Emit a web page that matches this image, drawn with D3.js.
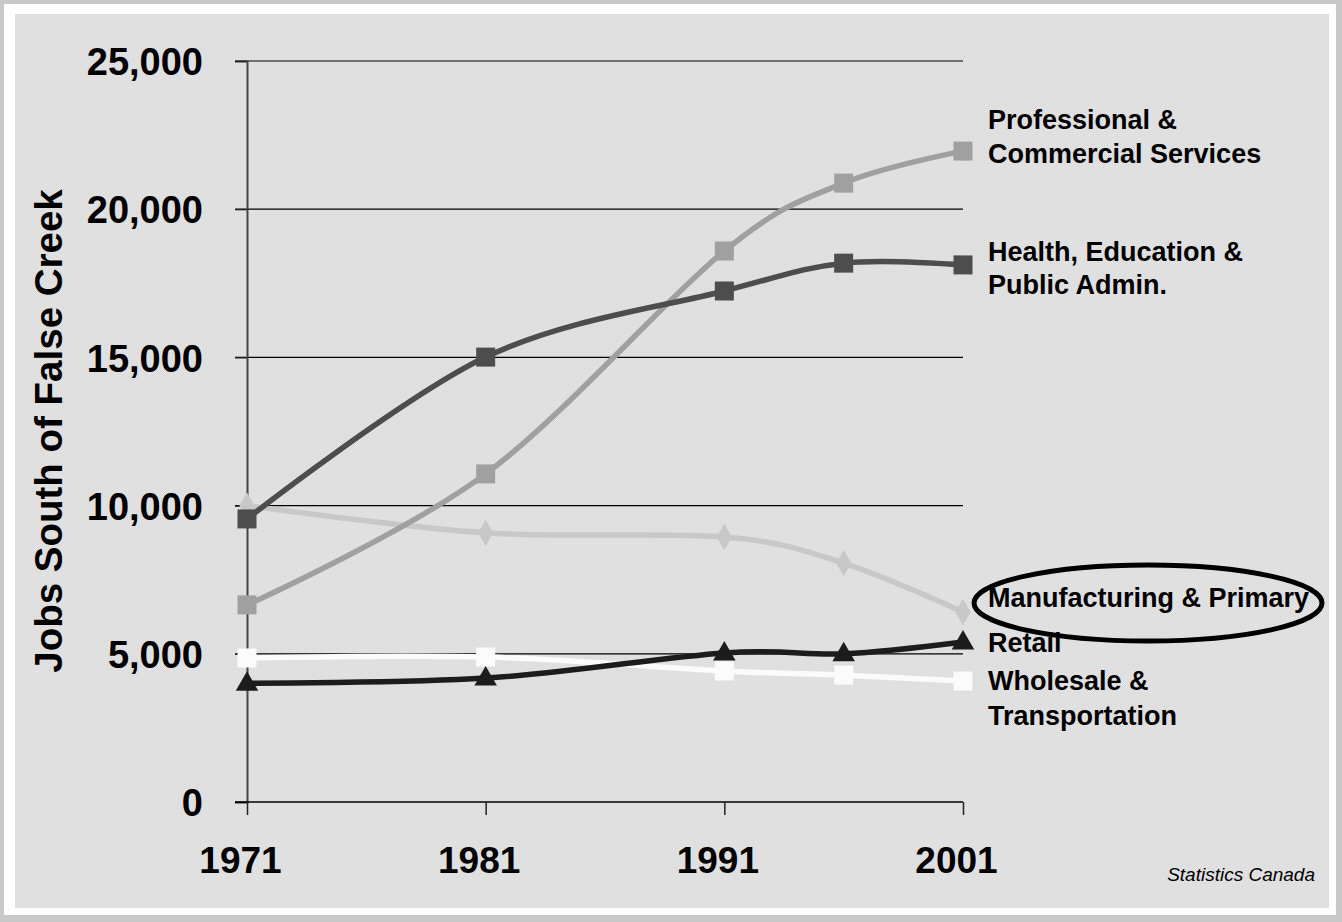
<!DOCTYPE html>
<html>
<head>
<meta charset="utf-8">
<script src="https://cdn.jsdelivr.net/npm/d3@7/dist/d3.min.js"></script>
<style>
  html, body { margin: 0; padding: 0; background: #c8c8c8; }
  svg { display: block; }
  text { font-family: "Liberation Sans", Arial, sans-serif; }
</style>
</head>
<body>
<svg id="chart" width="1342" height="922"></svg>
<script>
// Census years and job counts south of False Creek
const years = [1971, 1981, 1991, 1996, 2001];
const tickYears = [1971, 1981, 1991, 2001];
const yTicks = [0, 5000, 10000, 15000, 20000, 25000];

const professional  = [6650, 11070, 18590, 20880, 21960];
const health        = [9550, 15010, 17240, 18180, 18120];
const manufacturing = [10000, 9080, 8940, 8060, 6410];
const retail        = [4010, 4180, 5030, 5000, 5400];
const wholesale     = [4860, 4890, 4420, 4280, 4080];

const labelProfessional  = ["Professional &", "Commercial Services"];
const labelHealth        = ["Health, Education &", "Public Admin."];
const labelManufacturing = ["Manufacturing & Primary"];
const labelRetail        = ["Retail"];
const labelWholesale     = ["Wholesale &", "Transportation"];

const yTitle = "Jobs South of False Creek";
const sourceNote = "Statistics Canada";

const svg = d3.select("#chart");

// Dotted fill used behind the plot
const defs = svg.append("defs");
const pat = defs.append("pattern")
  .attr("id", "dots").attr("width", 2).attr("height", 2)
  .attr("patternUnits", "userSpaceOnUse");
pat.append("rect").attr("width", 2).attr("height", 2).attr("fill", "#e6e6e6");
pat.append("rect").attr("width", 1).attr("height", 1).attr("fill", "#d8d8d8");
pat.append("rect").attr("x", 1).attr("y", 1).attr("width", 1).attr("height", 1).attr("fill", "#dbdbdb");

// Frame
svg.append("rect").attr("x", 4).attr("y", 4).attr("width", 1332).attr("height", 911).attr("fill", "#ffffff");
svg.append("rect").attr("x", 15).attr("y", 14).attr("width", 1314).attr("height", 894).attr("fill", "url(#dots)");

const x = d3.scaleLinear().domain([1971, 2001]).range([247, 963]);
const y = d3.scaleLinear().domain([0, 25000]).range([802, 61]);

// Horizontal gridlines
svg.append("g").selectAll("line")
  .data(yTicks.filter(v => v > 0))
  .join("line")
  .attr("x1", 235).attr("x2", x(2001))
  .attr("y1", d => y(d)).attr("y2", d => y(d))
  .attr("stroke", "#000").attr("stroke-width", 1.2);

// Y axis
const yAxis = svg.append("g").attr("transform", `translate(${x(1971)},0)`)
  .call(d3.axisLeft(y).tickValues(yTicks).tickSize(12).tickPadding(32)
    .tickFormat(d3.format(",")));
yAxis.select(".domain").attr("stroke", "#444").attr("stroke-width", 2);
yAxis.selectAll(".tick line").attr("stroke", "#222").attr("stroke-width", 1.2);
yAxis.selectAll(".tick text")
  .attr("font-size", 38).attr("font-weight", "bold").attr("fill", "#000")
  .attr("font-family", "Liberation Sans, Arial, sans-serif")
  .attr("dy", "0.36em");

// X axis
const xAxis = svg.append("g").attr("transform", `translate(0,${y(0)})`)
  .call(d3.axisBottom(x).tickValues(tickYears).tickSize(13).tickPadding(0)
    .tickFormat(d3.format("d")));
xAxis.select(".domain").attr("stroke", "#000").attr("stroke-width", 1.5)
  .attr("d", `M235,0H${x(2001)}`);
xAxis.selectAll(".tick line").attr("stroke", "#222").attr("stroke-width", 1.5);
xAxis.selectAll(".tick text")
  .attr("font-size", 37).attr("font-weight", "bold").attr("fill", "#000")
  .attr("font-family", "Liberation Sans, Arial, sans-serif")
  .attr("dx", -7).attr("y", 71).attr("dy", 0);

// Y axis title
svg.append("text")
  .attr("transform", `translate(62,431) rotate(-90)`)
  .attr("text-anchor", "middle")
  .attr("font-size", 38.5).attr("font-weight", "bold").attr("fill", "#000")
  .text(yTitle);

// Series
const series = [
  { values: manufacturing, color: "#c8c8c8", shape: "diamond" },
  { values: wholesale,     color: "#fbfbfb", shape: "square" },
  { values: retail,        color: "#1c1c1c", shape: "triangle" },
  { values: professional,  color: "#a0a0a0", shape: "square" },
  { values: health,        color: "#4d4d4d", shape: "square" }
];

const line = d3.line()
  .x((d, i) => x(years[i]))
  .y(d => y(d))
  .curve(d3.curveCardinal.tension(0));

const symbolFor = {
  square:   d3.symbol().type(d3.symbolSquare).size(19 * 19),
  triangle: d3.symbol().type(d3.symbolTriangle).size(220),
  diamond:  d3.symbol().type(d3.symbolDiamond).size(200)
};

series.forEach(s => {
  const g = svg.append("g");
  g.append("path")
    .datum(s.values)
    .attr("d", line)
    .attr("fill", "none")
    .attr("stroke", s.color)
    .attr("stroke-width", 5.5)
    .attr("stroke-linejoin", "round");
  g.selectAll("path.mk")
    .data(s.values)
    .join("path")
    .attr("class", "mk")
    .attr("d", symbolFor[s.shape]())
    .attr("transform", (d, i) => `translate(${x(years[i])},${y(d) + (s.shape === "triangle" ? 1 : 0)})`)
    .attr("fill", s.color);
});

// Series labels at the right of the plot
const labelBlocks = [
  { lines: labelProfessional,  baselines: [129, 163] },
  { lines: labelHealth,        baselines: [261, 294] },
  { lines: labelManufacturing, baselines: [607] },
  { lines: labelRetail,        baselines: [652] },
  { lines: labelWholesale,     baselines: [690, 725] }
];
const lbl = svg.append("g");
labelBlocks.forEach(b => {
  b.lines.forEach((t, i) => {
    lbl.append("text")
      .attr("x", 988).attr("y", b.baselines[i])
      .attr("font-size", 27).attr("font-weight", "bold").attr("fill", "#000")
      .text(t);
  });
});

// Highlight ring around the manufacturing label
svg.append("ellipse")
  .attr("cx", 1148).attr("cy", 603).attr("rx", 174).attr("ry", 38)
  .attr("fill", "none").attr("stroke", "#000").attr("stroke-width", 5);

// Source note
svg.append("text")
  .attr("x", 1315).attr("y", 881)
  .attr("text-anchor", "end")
  .attr("font-size", 19).attr("font-style", "italic").attr("fill", "#000")
  .text(sourceNote);
</script>
</body>
</html>
